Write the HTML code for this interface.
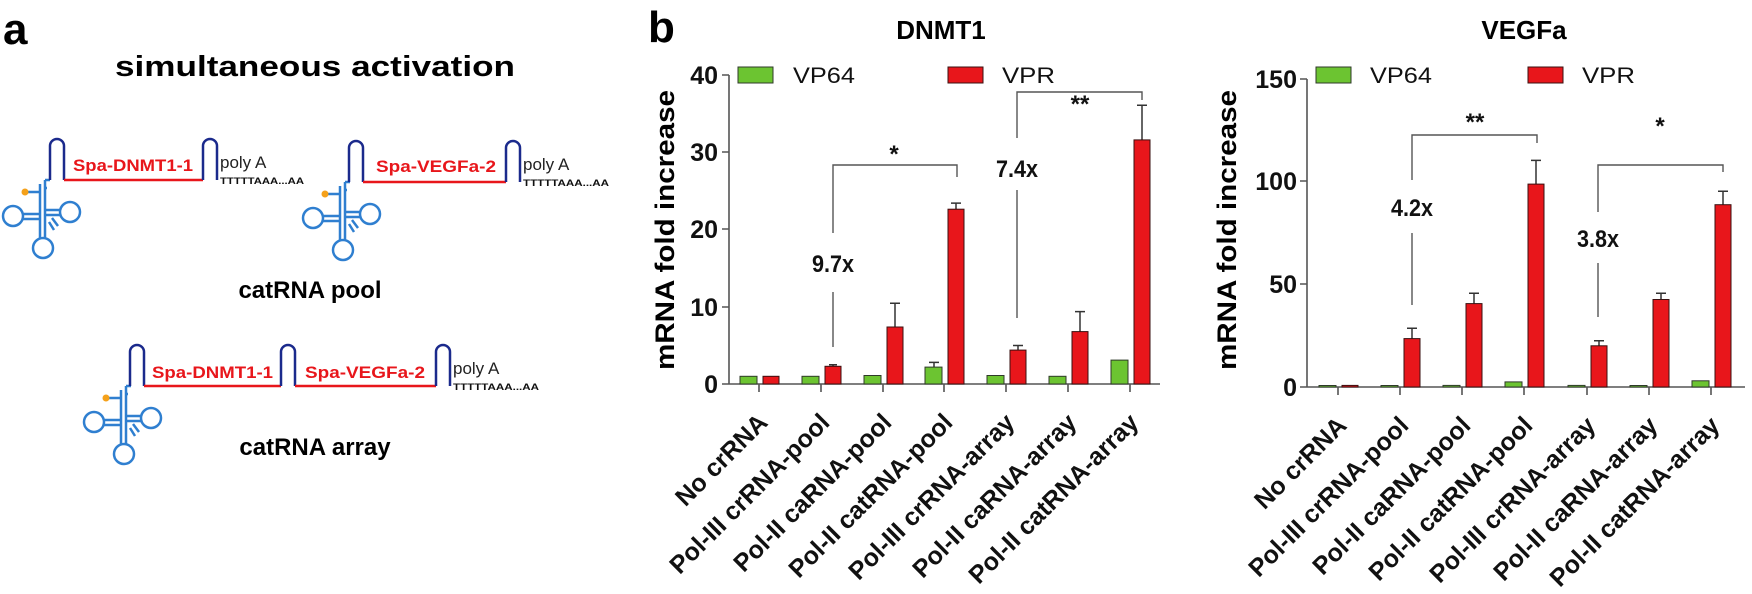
<!DOCTYPE html>
<html><head><meta charset="utf-8"><style>
html,body{margin:0;padding:0;background:#fff;}
svg{display:block;font-family:"Liberation Sans",Arial,sans-serif;}
.g{fill:#6cc431;stroke:#2f3a2a;stroke-width:1}
.r{fill:#e8161b;stroke:#3a1010;stroke-width:1}
.ax{stroke:#555;stroke-width:1.6;fill:none}
.eb{stroke:#333;stroke-width:1.5;fill:none}
.br{stroke:#555;stroke-width:1.4;fill:none}
.tl{font-size:25px;font-weight:bold;fill:#111}
.xl{font-size:25px;font-weight:bold;fill:#111}
.lg{font-size:22px;fill:#111}
.an{font-size:24px;font-weight:bold;fill:#111}
.bl{stroke:#1b2a8c;stroke-width:2.5;fill:none}
.rl{stroke:#e8161b;stroke-width:2.5;fill:none}
.tr{stroke:#2f7fd0;stroke-width:2.5;fill:none}
.sp{font-size:17px;font-weight:bold;fill:#e8161b}
.pa{font-size:17px;fill:#222}
.tt{font-size:9px;font-weight:bold;fill:#111}
</style></head><body>
<svg width="1752" height="594" viewBox="0 0 1752 594" xmlns="http://www.w3.org/2000/svg">
<!-- Panel a -->
<text x="3" y="44" font-size="44" font-weight="bold">a</text>
<text x="115" y="76" font-size="29" font-weight="bold" textLength="400" lengthAdjust="spacingAndGlyphs">simultaneous activation</text>

<defs>
<g id="trna">
  <path class="tr" d="M0,0 V40 M-5,4 V40 M0,0 H5"/>
  <path class="tr" d="M-5,12 H-20 M0,8 h2"/>
  <circle cx="-20" cy="12" r="3.5" fill="#f5a11a" stroke="none"/>
  <circle cx="-32" cy="36" r="10" class="tr"/>
  <circle cx="25" cy="32" r="10" class="tr"/>
  <circle cx="-2" cy="68" r="10" class="tr"/>
  <path class="tr" d="M-22,34 H-5 M-22,39 H-5 M0,30 H15 M0,35 H15 M-5,40 V58 M0,40 V58 M4,42 l5,8 M7,38 l6,8"/>
</g>
<g id="hp"><path class="bl" d="M0,42 V8 a7,7 0 0 1 14,0 V42"/></g>
</defs>

<use href="#trna" x="45" y="180"/>
<use href="#hp" x="50" y="138"/>
<line class="rl" x1="64" y1="180" x2="203" y2="180"/>
<use href="#hp" x="203" y="138"/>
<text class="sp" x="73" y="171" textLength="120" lengthAdjust="spacingAndGlyphs">Spa-DNMT1-1</text>
<text class="pa" x="220" y="168">poly A</text>
<text class="tt" x="220" y="184" textLength="84" lengthAdjust="spacingAndGlyphs">TTTTTAAA...AA</text>
<use href="#trna" x="345" y="182"/>
<use href="#hp" x="349" y="140"/>
<line class="rl" x1="363" y1="182" x2="506" y2="182"/>
<use href="#hp" x="506" y="140"/>
<text class="sp" x="376" y="172" textLength="120" lengthAdjust="spacingAndGlyphs">Spa-VEGFa-2</text>
<text class="pa" x="523" y="170">poly A</text>
<text class="tt" x="523" y="186" textLength="86" lengthAdjust="spacingAndGlyphs">TTTTTAAA...AA</text>
<text x="310" y="298" font-size="24" font-weight="bold" text-anchor="middle">catRNA pool</text>
<use href="#trna" x="126" y="386"/>
<use href="#hp" x="130" y="344"/>
<line class="rl" x1="144" y1="386" x2="281" y2="386"/>
<use href="#hp" x="281" y="344"/>
<line class="rl" x1="295" y1="386" x2="436" y2="386"/>
<use href="#hp" x="436" y="344"/>
<text class="sp" x="152" y="378" textLength="121" lengthAdjust="spacingAndGlyphs">Spa-DNMT1-1</text>
<text class="sp" x="305" y="378" textLength="120" lengthAdjust="spacingAndGlyphs">Spa-VEGFa-2</text>
<text class="pa" x="453" y="374">poly A</text>
<text class="tt" x="453" y="390" textLength="86" lengthAdjust="spacingAndGlyphs">TTTTTAAA...AA</text>
<text x="315" y="455" font-size="24" font-weight="bold" text-anchor="middle">catRNA array</text>

<!-- Panel b -->
<text x="648" y="42" font-size="44" font-weight="bold">b</text>

<!-- DNMT1 chart -->
<text x="941" y="39" font-size="26" font-weight="bold" text-anchor="middle">DNMT1</text>
<text transform="translate(674,230) rotate(-90)" font-size="27" font-weight="bold" text-anchor="middle" textLength="280" lengthAdjust="spacingAndGlyphs">mRNA fold increase</text>
<path class="ax" d="M729,75 V384 H1160 M722,75 H729 M722,152 H729 M722,229 H729 M722,307 H729 M722,384 H729
M759,384 v8 M821,384 v8 M883,384 v8 M944,384 v8 M1006,384 v8 M1068,384 v8 M1130,384 v8"/>
<g class="tl" text-anchor="end">
<text x="718" y="84">40</text><text x="718" y="161">30</text><text x="718" y="238">20</text><text x="718" y="316">10</text><text x="718" y="393">0</text>
</g>
<rect class="g" x="738" y="67" width="35" height="16"/><text class="lg" x="793" y="83" textLength="62" lengthAdjust="spacingAndGlyphs">VP64</text>
<rect class="r" x="948" y="67" width="35" height="16"/><text class="lg" x="1002" y="83" textLength="53" lengthAdjust="spacingAndGlyphs">VPR</text>
<path class="eb" d="M833,366.3 V364.8 M829,364.8 h8 M895,327 V303.2 M890,303.2 h10 M956,209.2 V203.1 M951,203.1 h10
M1018,350.1 V345.5 M1013,345.5 h10 M1080,331.6 V311.6 M1075,311.6 h10 M1142,139.9 V105.3 M1137,105.3 h10
M934,367.1 V362.4 M929,362.4 h10"/>
<rect class="g" x="740" y="376.3" width="17" height="7.7"/><rect class="r" x="763" y="376.3" width="16" height="7.7"/>
<rect class="g" x="802" y="376.3" width="17" height="7.7"/><rect class="r" x="825" y="366.3" width="16" height="17.7"/>
<rect class="g" x="864" y="375.5" width="17" height="8.5"/><rect class="r" x="887" y="327" width="16" height="57"/>
<rect class="g" x="925" y="367.1" width="17" height="16.9"/><rect class="r" x="948" y="209.2" width="16" height="174.8"/>
<rect class="g" x="987" y="375.5" width="17" height="8.5"/><rect class="r" x="1010" y="350.1" width="16" height="33.9"/>
<rect class="g" x="1049" y="376.3" width="17" height="7.7"/><rect class="r" x="1072" y="331.6" width="16" height="52.4"/>
<rect class="g" x="1111" y="360.1" width="17" height="23.9"/><rect class="r" x="1134" y="139.9" width="16" height="244.1"/>
<path class="br" d="M833,233 V165 H957 V177 M833,292 V347 M1017,138 V92 H1142 V100 M1017,190 V318"/>
<text class="an" x="894" y="162" text-anchor="middle">*</text>
<text class="an" x="1080" y="112" text-anchor="middle">**</text>
<text class="an" x="833" y="272" text-anchor="middle" textLength="42" lengthAdjust="spacingAndGlyphs">9.7x</text>
<text class="an" x="1017" y="177" text-anchor="middle" textLength="42" lengthAdjust="spacingAndGlyphs">7.4x</text>
<g class="xl" text-anchor="end">
<text transform="translate(769,424) rotate(-45)">No crRNA</text>
<text transform="translate(831,424) rotate(-45)">Pol-III crRNA-pool</text>
<text transform="translate(893,424) rotate(-45)">Pol-II caRNA-pool</text>
<text transform="translate(954,424) rotate(-45)">Pol-II catRNA-pool</text>
<text transform="translate(1016,424) rotate(-45)">Pol-III crRNA-array</text>
<text transform="translate(1078,424) rotate(-45)">Pol-II caRNA-array</text>
<text transform="translate(1140,424) rotate(-45)">Pol-II catRNA-array</text>
</g>

<!-- VEGFa chart -->
<text x="1524" y="39" font-size="26" font-weight="bold" text-anchor="middle">VEGFa</text>
<text transform="translate(1236,230) rotate(-90)" font-size="27" font-weight="bold" text-anchor="middle" textLength="280" lengthAdjust="spacingAndGlyphs">mRNA fold increase</text>
<path class="ax" d="M1307,79 V387 H1745 M1300,79 H1307 M1300,181 H1307 M1300,284 H1307 M1300,387 H1307
M1338,387 v8 M1400,387 v8 M1462,387 v8 M1524,387 v8 M1587,387 v8 M1649,387 v8 M1711,387 v8"/>
<g class="tl" text-anchor="end">
<text x="1297" y="88">150</text><text x="1297" y="190">100</text><text x="1297" y="293">50</text><text x="1297" y="396">0</text>
</g>
<rect class="g" x="1316" y="67" width="35" height="16"/><text class="lg" x="1370" y="83" textLength="62" lengthAdjust="spacingAndGlyphs">VP64</text>
<rect class="r" x="1528" y="67" width="35" height="16"/><text class="lg" x="1582" y="83" textLength="53" lengthAdjust="spacingAndGlyphs">VPR</text>
<path class="eb" d="M1412,338.6 V328.3 M1407,328.3 h10 M1474,303.6 V293.3 M1469,293.3 h10 M1536,184.1 V160.4 M1531,160.4 h10
M1599,345.8 V340.7 M1594,340.7 h10 M1661,299.5 V293.3 M1656,293.3 h10 M1723,204.7 V191.3 M1718,191.3 h10"/>
<rect class="g" x="1319" y="385.5" width="17" height="1.5"/><rect class="r" x="1342" y="385.4" width="16" height="1.6"/>
<rect class="g" x="1381" y="385.5" width="17" height="1.5"/><rect class="r" x="1404" y="338.6" width="16" height="48.4"/>
<rect class="g" x="1443" y="385.4" width="17" height="1.6"/><rect class="r" x="1466" y="303.6" width="16" height="83.4"/>
<rect class="g" x="1505" y="381.9" width="17" height="5.1"/><rect class="r" x="1528" y="184.1" width="16" height="202.9"/>
<rect class="g" x="1568" y="385.4" width="17" height="1.6"/><rect class="r" x="1591" y="345.8" width="16" height="41.2"/>
<rect class="g" x="1630" y="385.5" width="17" height="1.5"/><rect class="r" x="1653" y="299.5" width="16" height="87.5"/>
<rect class="g" x="1692" y="380.8" width="17" height="6.2"/><rect class="r" x="1715" y="204.7" width="16" height="182.3"/>
<path class="br" d="M1412,180 V135 H1537 V143 M1412,233 V305 M1598,212 V165 H1723 V172 M1598,263 V317"/>
<text class="an" x="1475" y="130" text-anchor="middle">**</text>
<text class="an" x="1660" y="134" text-anchor="middle">*</text>
<text class="an" x="1412" y="216" text-anchor="middle" textLength="42" lengthAdjust="spacingAndGlyphs">4.2x</text>
<text class="an" x="1598" y="247" text-anchor="middle" textLength="42" lengthAdjust="spacingAndGlyphs">3.8x</text>
<g class="xl" text-anchor="end">
<text transform="translate(1348,427) rotate(-45)">No crRNA</text>
<text transform="translate(1410,427) rotate(-45)">Pol-III crRNA-pool</text>
<text transform="translate(1472,427) rotate(-45)">Pol-II caRNA-pool</text>
<text transform="translate(1534,427) rotate(-45)">Pol-II catRNA-pool</text>
<text transform="translate(1597,427) rotate(-45)">Pol-III crRNA-array</text>
<text transform="translate(1659,427) rotate(-45)">Pol-II caRNA-array</text>
<text transform="translate(1721,427) rotate(-45)">Pol-II catRNA-array</text>
</g>
</svg>
</body></html>
